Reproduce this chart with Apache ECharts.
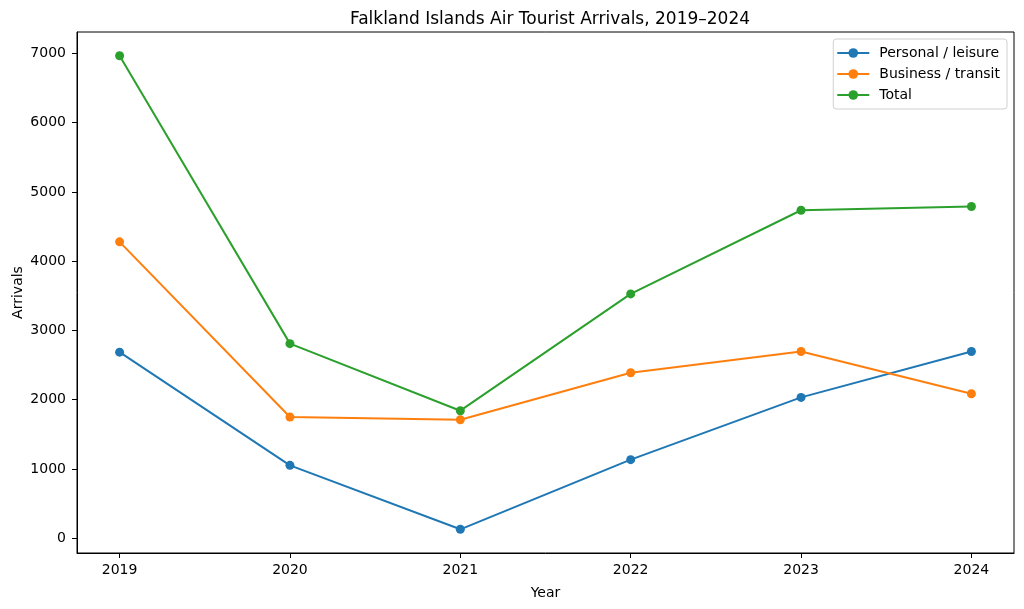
<!DOCTYPE html>
<html>
<head>
<meta charset="utf-8">
<script src="https://cdn.jsdelivr.net/npm/echarts@6/dist/echarts.min.js"></script>
<style>
  html, body { margin: 0; padding: 0; background: #fff; }
  #chart { width: 1024px; height: 609px; }
</style>
</head>
<body>
<div id="chart"></div>
<script>
var years = [2019, 2020, 2021, 2022, 2023, 2024];
var personal = [2687, 1053, 130, 1135, 2034, 2697];
var business = [4279, 1750, 1712, 2390, 2697, 2087];
var total = [6966, 2810, 1842, 3528, 4735, 4790];
var yTicks = [0, 1000, 2000, 3000, 4000, 5000, 6000, 7000];

var font = 'DejaVu Sans';

function pairs(vals) {
  return years.map(function (y, i) { return [y, vals[i]]; });
}

function plain(v) {
  return String(v);
}

function lineSeries(name, vals, color) {
  return {
    name: name,
    type: 'line',
    data: pairs(vals),
    symbol: 'circle',
    symbolSize: 9,
    lineStyle: { width: 2, color: color },
    itemStyle: { color: color },
    emphasis: { disabled: true }
  };
}

var chart = echarts.init(document.getElementById('chart'));

chart.setOption({
  animation: false,
  textStyle: { fontFamily: font },
  title: {
    text: 'Falkland Islands Air Tourist Arrivals, 2019\u20132024',
    left: 545, top: 6,
    textAlign: 'center',
    textStyle: { fontFamily: font, fontSize: 17, fontWeight: 'normal', color: '#000' }
  },
  legend: {
    orient: 'vertical',
    right: 17, top: 39,
    itemWidth: 32, itemHeight: 12,
    itemGap: 7,
    padding: [7, 7, 7, 3],
    borderColor: '#d0d0d0', borderWidth: 1, borderRadius: 3,
    backgroundColor: '#fff',
    textStyle: { fontFamily: font, fontSize: 14, color: '#000', padding: [0, 0, 0, 5] },
    data: ['Personal / leisure', 'Business / transit', 'Total']
  },
  grid: {
    left: 77, right: 10, top: 32, bottom: 56,
    outerBoundsMode: 'none',
    show: true, borderColor: '#000', borderWidth: 1, backgroundColor: '#fff'
  },
  xAxis: {
    type: 'value',
    min: 2018.75, max: 2024.25,
    name: 'Year', nameLocation: 'middle', nameGap: 33,
    nameMoveOverlap: false,
    nameTextStyle: { fontFamily: font, fontSize: 14, color: '#000' },
    axisLine: { show: true, onZero: false, lineStyle: { color: '#000' } },
    axisTick: { show: true, length: 5, customValues: years, lineStyle: { color: '#000' } },
    axisLabel: { customValues: years, formatter: plain, fontFamily: font, fontSize: 14, color: '#000', margin: 10 },
    splitLine: { show: false }
  },
  yAxis: {
    type: 'value',
    min: -212, max: 7308,
    name: 'Arrivals', nameLocation: 'middle', nameGap: 52,
    nameMoveOverlap: false,
    nameTextStyle: { fontFamily: font, fontSize: 14, color: '#000' },
    axisLine: { show: true, onZero: false, lineStyle: { color: '#000' } },
    axisTick: { show: true, length: 5, customValues: yTicks, lineStyle: { color: '#000' } },
    axisLabel: { customValues: yTicks, formatter: plain, fontFamily: font, fontSize: 14, color: '#000', margin: 11 },
    splitLine: { show: false }
  },
  series: [
    lineSeries('Personal / leisure', personal, '#1f77b4'),
    lineSeries('Business / transit', business, '#ff7f0e'),
    lineSeries('Total', total, '#2ca02c')
  ]
});
</script>
</body>
</html>
